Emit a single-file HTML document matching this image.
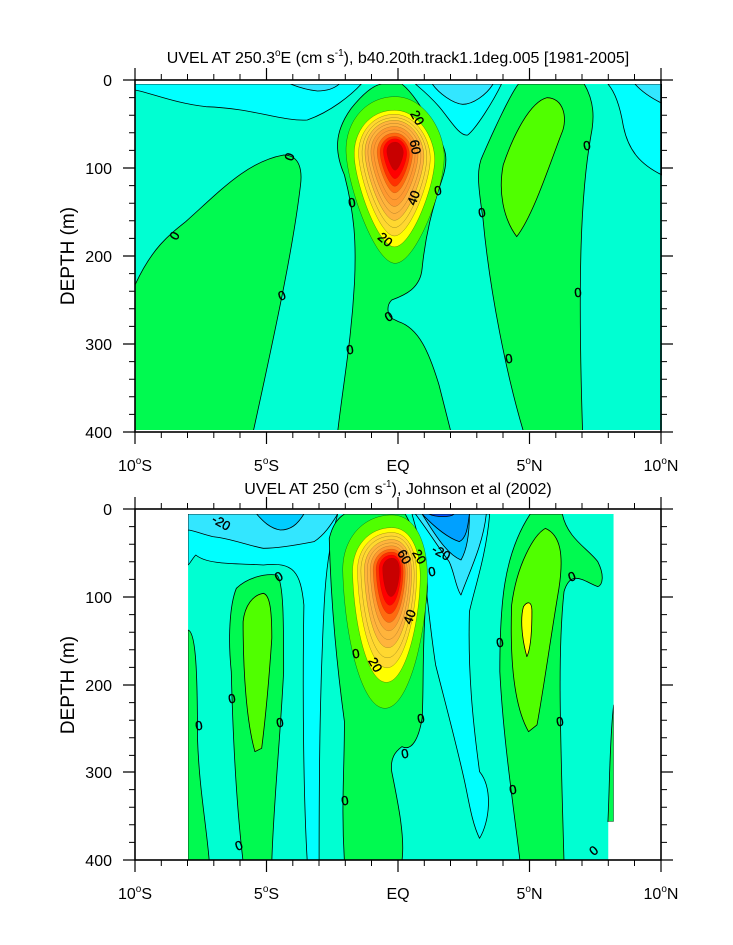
<!DOCTYPE html>
<html><head><meta charset="utf-8"><style>
html,body{margin:0;padding:0;background:#fff;}
svg{display:block;font-family:"Liberation Sans",sans-serif;}
</style></head><body>
<svg width="733" height="945" viewBox="0 0 733 945" xmlns="http://www.w3.org/2000/svg">
<defs>
<clipPath id="c1"><rect x="0" y="27" width="1560" height="1038"/></clipPath>
<clipPath id="c2"><rect x="157" y="27" width="1260" height="1038"/></clipPath>
<path id="egg1" d="M0,-170 C90,-170 150,-60 145,20 C140,120 60,330 0,330 C-60,330 -140,100 -145,0 C-150,-90 -90,-170 0,-170Z"/>
<path id="egg2" d="M0,-165 C80,-165 110,-60 105,40 C100,200 50,415 -20,415 C-90,415 -140,200 -145,0 C-145,-100 -80,-165 0,-165Z"/>
</defs>

<!-- TOP PLOT -->
<g transform="translate(135,75) scale(0.3378,0.3333)" stroke="#000" stroke-width="0.8" stroke-linejoin="round">
<g clip-path="url(#c1)">
<rect x="0" y="27" width="1560" height="1040" fill="#00ffd2" stroke="none"/>
<path fill="#00ffff" vector-effect="non-scaling-stroke" d="M0,27 L670,27 C640,60 580,110 510,135 C440,140 350,100 210,95 C120,85 50,55 0,45 Z"/>
<path fill="#33e6ff" vector-effect="non-scaling-stroke" d="M460,27 L605,27 C590,40 570,48 540,48 C510,45 480,35 460,27Z"/>
<path fill="#00ffff" vector-effect="non-scaling-stroke" d="M830,27 L1085,27 C1060,80 1010,160 985,180 C960,185 930,130 900,95 C870,60 845,40 830,27Z"/>
<path fill="#33e6ff" vector-effect="non-scaling-stroke" d="M880,27 L1060,27 C1040,60 1000,88 970,88 C940,85 900,55 880,27Z"/>
<path fill="#00ffff" vector-effect="non-scaling-stroke" d="M1400,27 L1560,27 L1560,300 C1500,270 1460,230 1445,150 C1435,90 1420,50 1400,27Z"/>
<path fill="#33e6ff" vector-effect="non-scaling-stroke" d="M1480,27 L1560,27 L1560,85 C1530,70 1500,50 1480,27Z"/>
<path fill="#00fa50" vector-effect="non-scaling-stroke" d="M0,630 C50,520 100,480 150,440 C250,350 330,260 440,240 C490,240 495,290 490,330 C470,500 430,700 350,1070 L0,1070Z"/>
<path fill="#00fa50" vector-effect="non-scaling-stroke" d="M600,1070 C620,900 640,800 650,620 C655,500 650,420 620,300 C590,230 590,170 640,100 C680,50 710,30 730,27 L790,27 C830,60 860,120 890,170 C920,220 930,250 910,310 C880,400 860,480 850,580 C845,640 800,660 760,675 C745,690 745,715 760,730 L780,740 C840,760 870,830 900,930 L935,1070 Z"/>
<path fill="#00fa50" vector-effect="non-scaling-stroke" d="M1150,1070 C1100,900 1050,650 1030,430 C1015,330 1010,280 1030,240 C1060,170 1110,60 1135,27 L1330,27 C1360,80 1360,130 1350,180 C1320,350 1310,600 1325,1070Z"/>
<path fill="#50ff00" vector-effect="non-scaling-stroke" d="M1130,485 C1090,430 1075,350 1090,270 C1120,180 1170,80 1220,68 C1270,70 1280,130 1265,170 C1230,260 1180,420 1130,485Z"/>
<g vector-effect="non-scaling-stroke">
<use href="#egg1" transform="translate(770,235) scale(1,1)" fill="#50ff00"/>
<use href="#egg1" transform="translate(768,245) scale(0.82)" fill="#ffff00"/>
<use href="#egg1" transform="translate(768,242) scale(0.73)" fill="#ffd830"/>
<use href="#egg1" transform="translate(768,240) scale(0.66)" fill="none"/>
<use href="#egg1" transform="translate(768,238) scale(0.6)" fill="#ffb43c"/>
<use href="#egg1" transform="translate(768,237) scale(0.54)" fill="none"/>
<use href="#egg1" transform="translate(768,236) scale(0.48)" fill="#ff9a30"/>
<use href="#egg1" transform="translate(768,236) scale(0.42)" fill="none"/>
<use href="#egg1" transform="translate(769,235) scale(0.36)" fill="#ff6a10"/>
<use href="#egg1" transform="translate(769,235) scale(0.30)" fill="#ff3000"/>
<use href="#egg1" transform="translate(770,232) scale(0.24)" fill="#ff0000"/>
<use href="#egg1" transform="translate(770,230) scale(0.17)" fill="#c80000"/>
</g>
</g>
</g>
<g font-size="13" text-anchor="middle" fill="#000" stroke="#000" stroke-width="0.35">
<text x="290" y="161" transform="rotate(-70 290 157)">0</text>
<text x="175" y="240" transform="rotate(-60 175 236)">0</text>
<text x="282" y="300" transform="rotate(-20 282 296)">0</text>
<text x="352" y="207" transform="rotate(-10 352 203)">0</text>
<text x="438" y="195" transform="rotate(-10 438 191)">0</text>
<text x="482" y="217" transform="rotate(-10 482 213)">0</text>
<text x="587" y="150" transform="rotate(-10 587 146)">0</text>
<text x="389" y="321" transform="rotate(-30 389 317)">0</text>
<text x="350" y="354" transform="rotate(-10 350 350)">0</text>
<text x="509" y="363" transform="rotate(-10 509 359)">0</text>
<text x="578" y="297" transform="rotate(-5 578 293)">0</text>
<text x="417" y="122" transform="rotate(60 417 118)">20</text>
<text x="415" y="151" transform="rotate(80 415 147)">60</text>
<text x="414" y="202" transform="rotate(-70 414 198)">40</text>
<text x="385" y="244" transform="rotate(40 385 240)">20</text>
</g>

<!-- BOTTOM PLOT -->
<g transform="translate(135,505) scale(0.3378,0.3333)" stroke="#000" stroke-width="0.8" stroke-linejoin="round">
<g clip-path="url(#c2)">
<rect x="157" y="27" width="1260" height="1040" fill="#00ffd2" stroke="none"/>
<path fill="#00ffff" vector-effect="non-scaling-stroke" d="M157,27 L600,27 C575,120 565,200 560,300 C550,500 545,700 545,1070 L510,1070 C500,900 495,600 500,300 C490,200 470,170 380,180 C300,175 215,180 180,150 C170,160 160,180 157,180Z"/>
<path fill="#33e6ff" vector-effect="non-scaling-stroke" d="M157,27 L600,27 C580,60 560,90 530,110 C480,120 420,130 380,130 C330,120 280,100 230,95 C190,85 170,75 157,75 Z"/>
<path fill="#00ccff" vector-effect="non-scaling-stroke" d="M360,27 L500,27 C480,60 460,75 430,75 C400,70 380,50 360,27Z"/>
<path fill="#00ffff" vector-effect="non-scaling-stroke" d="M820,27 L1050,27 C1040,150 1005,250 990,320 C985,500 1000,650 1020,800 C1060,850 1050,950 1020,1000 C1000,960 990,900 980,850 C960,750 920,600 890,480 C870,350 860,200 840,100 Z"/>
<path fill="#33e6ff" vector-effect="non-scaling-stroke" d="M830,27 L1040,27 C1030,120 990,200 965,270 C950,250 945,200 930,170 C900,130 870,80 830,27Z"/>
<path fill="#00c8ff" vector-effect="non-scaling-stroke" d="M850,27 L990,27 C990,80 985,130 965,165 C930,150 900,110 850,27Z"/>
<path fill="#00a0ff" vector-effect="non-scaling-stroke" d="M850,27 L990,27 C985,70 980,100 960,110 C930,100 890,70 850,27Z"/>
<path fill="#0050ff" vector-effect="non-scaling-stroke" d="M870,27 L945,27 C935,37 890,37 870,27Z"/>
<path fill="#00fa50" vector-effect="non-scaling-stroke" d="M157,375 C180,380 185,500 185,700 C190,850 210,950 220,1070 L157,1070Z"/>
<path fill="#00fa50" vector-effect="non-scaling-stroke" d="M320,1070 C300,900 290,700 285,500 C275,400 280,300 300,250 C330,220 380,205 420,210 C440,230 440,350 440,500 C430,700 410,900 405,1070 Z"/>
<path fill="#50ff00" vector-effect="non-scaling-stroke" d="M355,740 C330,650 320,500 320,350 C325,300 350,270 380,265 C400,270 405,320 405,400 C395,550 385,650 375,730 Z"/>
<path fill="#00fa50" vector-effect="non-scaling-stroke" d="M620,1070 C610,900 620,800 620,650 C600,500 580,300 575,100 C585,60 600,40 620,27 L800,27 C840,100 880,200 860,300 C850,450 855,550 850,640 C840,700 820,740 790,725 C770,740 755,760 760,800 C780,900 800,1000 790,1070 Z"/>
<path fill="#00fa50" vector-effect="non-scaling-stroke" d="M1140,1070 C1120,900 1090,700 1080,500 C1080,300 1090,150 1170,27 L1265,27 C1280,100 1340,130 1370,170 C1390,210 1385,240 1370,245 C1330,230 1290,190 1270,260 C1250,450 1260,700 1270,1070 Z"/>
<path fill="#50ff00" vector-effect="non-scaling-stroke" d="M1165,680 C1120,600 1110,450 1115,300 C1130,180 1180,90 1215,70 C1260,90 1270,150 1255,250 C1230,400 1210,550 1190,660 Z"/>
<path fill="#ffff00" vector-effect="non-scaling-stroke" d="M1160,455 C1145,400 1140,340 1150,305 C1160,290 1175,285 1175,320 C1175,380 1172,430 1160,455Z"/>
<path fill="#00fa50" vector-effect="non-scaling-stroke" d="M1417,600 C1405,700 1405,850 1400,950 L1417,950Z"/>
<g vector-effect="non-scaling-stroke">
<use href="#egg2" transform="translate(760,195) scale(1)" fill="#50ff00"/>
<use href="#egg2" transform="translate(760,200) scale(0.8)" fill="#ffff00"/>
<use href="#egg2" transform="translate(760,198) scale(0.7)" fill="#ffd830"/>
<use href="#egg2" transform="translate(760,197) scale(0.63)" fill="none"/>
<use href="#egg2" transform="translate(760,196) scale(0.56)" fill="#ffb43c"/>
<use href="#egg2" transform="translate(760,196) scale(0.5)" fill="none"/>
<use href="#egg2" transform="translate(760,195) scale(0.44)" fill="#ff9a30"/>
<use href="#egg2" transform="translate(760,195) scale(0.38)" fill="#ff6a10"/>
<use href="#egg2" transform="translate(760,194) scale(0.32)" fill="#ff3000"/>
<use href="#egg2" transform="translate(760,193) scale(0.26)" fill="#ff0000"/>
<use href="#egg2" transform="translate(762,192) scale(0.2)" fill="#c80000"/>
</g>
</g>
<rect x="1401" y="950" width="30" height="120" fill="#fff" stroke="none"/>
</g>
<g font-size="13" text-anchor="middle" fill="#000" stroke="#000" stroke-width="0.35">
<text x="221" y="527" transform="rotate(30 221 523)">-20</text>
<text x="441" y="557" transform="rotate(30 441 553)">-20</text>
<text x="404" y="561" transform="rotate(60 404 557)">60</text>
<text x="419" y="561" transform="rotate(60 419 557)">20</text>
<text x="410" y="621" transform="rotate(-70 410 617)">40</text>
<text x="375" y="669" transform="rotate(60 375 665)">20</text>
<text x="279" y="581" transform="rotate(-30 279 577)">0</text>
<text x="432" y="576" transform="rotate(-10 432 572)">0</text>
<text x="572" y="581" transform="rotate(-20 572 577)">0</text>
<text x="356" y="658" transform="rotate(-10 356 654)">0</text>
<text x="500" y="647" transform="rotate(-10 500 643)">0</text>
<text x="232" y="703" transform="rotate(-10 232 699)">0</text>
<text x="199" y="730" transform="rotate(-10 199 726)">0</text>
<text x="280" y="727" transform="rotate(-10 280 723)">0</text>
<text x="421" y="723" transform="rotate(-10 421 719)">0</text>
<text x="560" y="726" transform="rotate(-10 560 722)">0</text>
<text x="405" y="758" transform="rotate(-10 405 754)">0</text>
<text x="345" y="805" transform="rotate(-10 345 801)">0</text>
<text x="513" y="794" transform="rotate(-10 513 790)">0</text>
<text x="239" y="850" transform="rotate(-20 239 846)">0</text>
<text x="594" y="855" transform="rotate(-40 594 851)">0</text>
</g>

<!-- AXES -->
<g stroke="#000" fill="none">
<rect x="135" y="80" width="526" height="352" stroke-width="1.6"/>
<rect x="135" y="509" width="526" height="351" stroke-width="1.6"/>
<path stroke-width="1.2" d="
M135,432v12 M266.5,432v12 M398,432v12 M529.5,432v12 M661,432v12
M135,80v-12 M266.5,80v-12 M398,80v-12 M529.5,80v-12 M661,80v-12
M135,860v12 M266.5,860v12 M398,860v12 M529.5,860v12 M661,860v12
M135,509v-12 M266.5,509v-12 M398,509v-12 M529.5,509v-12 M661,509v-12
M135,80h-12 M135,168h-12 M135,256h-12 M135,344h-12 M135,432h-12
M661,80h12 M661,168h12 M661,256h12 M661,344h12 M661,432h12
M135,509h-12 M135,597h-12 M135,685h-12 M135,772h-12 M135,860h-12
M661,509h12 M661,597h12 M661,685h12 M661,772h12 M661,860h12"/>
<path stroke-width="1" d="
M161.3,432v6 M187.5,432v6 M213.8,432v6 M240,432v6 M292.8,432v6 M319,432v6 M345.3,432v6 M371.5,432v6 M424.3,432v6 M450.5,432v6 M476.8,432v6 M503,432v6 M555.8,432v6 M582,432v6 M608.3,432v6 M634.5,432v6
M161.3,80v-6 M187.5,80v-6 M213.8,80v-6 M240,80v-6 M292.8,80v-6 M319,80v-6 M345.3,80v-6 M371.5,80v-6 M424.3,80v-6 M450.5,80v-6 M476.8,80v-6 M503,80v-6 M555.8,80v-6 M582,80v-6 M608.3,80v-6 M634.5,80v-6
M161.3,860v6 M187.5,860v6 M213.8,860v6 M240,860v6 M292.8,860v6 M319,860v6 M345.3,860v6 M371.5,860v6 M424.3,860v6 M450.5,860v6 M476.8,860v6 M503,860v6 M555.8,860v6 M582,860v6 M608.3,860v6 M634.5,860v6
M161.3,509v-6 M187.5,509v-6 M213.8,509v-6 M240,509v-6 M292.8,509v-6 M319,509v-6 M345.3,509v-6 M371.5,509v-6 M424.3,509v-6 M450.5,509v-6 M476.8,509v-6 M503,509v-6 M555.8,509v-6 M582,509v-6 M608.3,509v-6 M634.5,509v-6
M135,97.6h-6 M135,115.2h-6 M135,132.8h-6 M135,150.4h-6 M135,185.6h-6 M135,203.2h-6 M135,220.8h-6 M135,238.4h-6 M135,273.6h-6 M135,291.2h-6 M135,308.8h-6 M135,326.4h-6 M135,361.6h-6 M135,379.2h-6 M135,396.8h-6 M135,414.4h-6
M661,97.6h6 M661,115.2h6 M661,132.8h6 M661,150.4h6 M661,185.6h6 M661,203.2h6 M661,220.8h6 M661,238.4h6 M661,273.6h6 M661,291.2h6 M661,308.8h6 M661,326.4h6 M661,361.6h6 M661,379.2h6 M661,396.8h6 M661,414.4h6
M135,526.6h-6 M135,544.2h-6 M135,561.8h-6 M135,579.4h-6 M135,614.6h-6 M135,632.2h-6 M135,649.8h-6 M135,667.4h-6 M135,702.6h-6 M135,720.2h-6 M135,737.8h-6 M135,755.4h-6 M135,789.6h-6 M135,807.2h-6 M135,824.8h-6 M135,842.4h-6
M661,526.6h6 M661,544.2h6 M661,561.8h6 M661,579.4h6 M661,614.6h6 M661,632.2h6 M661,649.8h6 M661,667.4h6 M661,702.6h6 M661,720.2h6 M661,737.8h6 M661,755.4h6 M661,789.6h6 M661,807.2h6 M661,824.8h6 M661,842.4h6"/>
</g>

<g font-size="16" fill="#000">
<g text-anchor="end">
<text x="112" y="86">0</text><text x="112" y="174">100</text><text x="112" y="262">200</text><text x="112" y="350">300</text><text x="112" y="438">400</text>
<text x="112" y="515">0</text><text x="112" y="603">100</text><text x="112" y="691">200</text><text x="112" y="778">300</text><text x="112" y="866">400</text>
</g>
<g text-anchor="middle">
<text x="135" y="471">10<tspan font-size="10" dy="-7">o</tspan><tspan dy="7">S</tspan></text>
<text x="266.5" y="471">5<tspan font-size="10" dy="-7">o</tspan><tspan dy="7">S</tspan></text>
<text x="398" y="471">EQ</text>
<text x="529.5" y="471">5<tspan font-size="10" dy="-7">o</tspan><tspan dy="7">N</tspan></text>
<text x="661" y="471">10<tspan font-size="10" dy="-7">o</tspan><tspan dy="7">N</tspan></text>
<text x="135" y="899">10<tspan font-size="10" dy="-7">o</tspan><tspan dy="7">S</tspan></text>
<text x="266.5" y="899">5<tspan font-size="10" dy="-7">o</tspan><tspan dy="7">S</tspan></text>
<text x="398" y="899">EQ</text>
<text x="529.5" y="899">5<tspan font-size="10" dy="-7">o</tspan><tspan dy="7">N</tspan></text>
<text x="661" y="899">10<tspan font-size="10" dy="-7">o</tspan><tspan dy="7">N</tspan></text>
<text x="398" y="63">UVEL AT 250.3<tspan font-size="10" dy="-7">o</tspan><tspan dy="7">E (cm s</tspan><tspan font-size="10" dy="-7">-1</tspan><tspan dy="7">), b40.20th.track1.1deg.005 [1981-2005]</tspan></text>
<text x="398" y="494">UVEL AT 250 (cm s<tspan font-size="10" dy="-7">-1</tspan><tspan dy="7">), Johnson et al (2002)</tspan></text>
</g>
<text font-size="19" text-anchor="middle" transform="translate(74,256) rotate(-90)">DEPTH (m)</text>
<text font-size="19" text-anchor="middle" transform="translate(74,685) rotate(-90)">DEPTH (m)</text>
</g>
</svg>
</body></html>
